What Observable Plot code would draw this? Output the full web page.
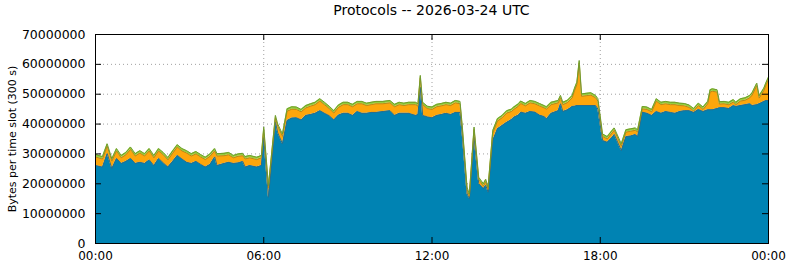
<!DOCTYPE html>
<html>
<head>
<meta charset="utf-8">
<script src="https://cdn.jsdelivr.net/npm/d3@7"></script>
<script src="https://cdn.jsdelivr.net/npm/@observablehq/plot@0.6"></script>
<style>
  html, body { margin: 0; padding: 0; background: #fff; }
  #wrap { width: 790px; height: 267px; position: relative; font-family: "DejaVu Sans", sans-serif; }
  #title { position: absolute; left: 95px; width: 673px; top: 2px; text-align: center; font-size: 14px; color: #000; }
  #chart { position: absolute; left: 0; top: 25px; }
</style>
</head>
<body>
<div id="wrap">
  <div id="title">Protocols -- 2026-03-24 UTC</div>
  <div id="chart"></div>
</div>
<script>
// Time slots (UTC, HH:MM on 2026-03-24)
const times = ["00:00","00:15","00:25","00:35","00:45","00:55","01:05","01:15","01:25","01:35","01:45","01:55",
"02:05","02:15","02:25","02:35","02:45","02:55","03:05","03:15","03:25","03:35","03:45","03:55",
"04:05","04:15","04:20","04:35","04:45","04:55","05:05","05:15","05:20","05:30","05:45","05:55",
"06:00","06:10","06:25","06:30","06:40","06:50","07:00","07:10","07:20","07:30","07:40","07:50",
"08:00","08:10","08:20","08:30","08:40","08:50","09:00","09:10","09:20","09:30","09:40","09:50",
"10:00","10:15","10:30","10:40","10:50","11:00","11:10","11:25","11:30","11:35","11:40","11:50",
"12:00","12:10","12:20","12:30","12:40","12:50","13:00","13:05","13:15","13:20","13:30","13:40",
"13:50","13:55","14:00","14:10","14:20","14:30","14:40","14:50","14:55","15:05","15:10","15:20",
"15:30","15:40","15:50","16:00","16:05","16:15","16:30","16:35","16:40","16:50","17:00","17:05",
"17:10","17:15","17:20","17:30","17:40","17:50","17:55","18:05","18:15","18:25","18:30","18:45",
"18:55","19:05","19:15","19:20","19:30","19:40","19:50","20:00","20:10","20:20","20:30","20:40",
"20:50","21:00","21:10","21:20","21:30","21:40","21:50","21:55","22:00","22:10","22:15","22:25",
"22:35","22:45","22:50","23:00","23:10","23:20","23:25","23:35","23:40","23:50","23:55","24:00"];

// Bytes per slot, in millions
const seriesA = [26.1,25.6,30.1,25.1,28.5,26.8,27.5,28.5,26.8,27.2,26.8,28.0,
26.1,28.5,27.0,25.6,27.5,29.5,28.3,27.2,26.8,27.5,26.5,25.6,
26.5,29.0,26.1,26.8,27.2,26.8,27.0,27.5,25.6,26.1,25.6,26.1,
35.5,15.5,40.6,37.0,33.4,41.2,42.0,42.1,41.4,42.9,43.2,43.6,
44.5,43.6,42.8,41.4,43.0,43.6,43.6,42.9,44.2,43.6,43.6,43.9,
43.9,44.2,44.5,42.9,43.6,43.6,43.6,42.9,43.2,52.3,42.9,42.4,
42.1,42.9,43.2,43.6,43.2,43.9,43.9,36.0,16.6,15.0,35.6,20.0,
18.4,19.5,17.2,34.5,38.4,39.5,40.6,41.5,42.3,43.0,44.0,43.6,
44.2,44.0,43.0,42.5,41.8,43.6,44.5,46.8,44.2,44.8,45.9,46.0,
46.2,46.2,46.2,46.2,46.2,46.2,45.0,34.5,33.9,35.5,36.5,31.1,
35.8,36.0,36.5,35.8,44.0,43.6,42.9,44.2,43.6,44.2,43.9,43.6,
44.2,44.5,44.5,43.9,44.9,44.2,44.8,44.8,44.8,45.2,45.5,45.5,
45.2,46.2,45.9,46.2,46.5,46.8,46.2,46.5,46.8,47.6,47.9,47.9];

const seriesB = [2.9,2.7,2.5,2.5,2.5,1.9,2.2,3.0,2.5,3.1,2.5,3.0,
2.6,2.5,2.7,2.4,2.7,2.8,2.7,3.1,2.5,2.5,2.5,2.5,
2.7,2.0,3.2,2.6,2.5,1.9,2.2,1.9,2.7,2.6,2.5,2.6,
2.7,3.1,1.5,2.2,2.5,3.1,3.0,2.8,2.7,2.5,2.8,2.9,
3.2,2.9,2.4,2.3,2.6,2.9,2.9,2.9,2.6,3.2,2.6,2.6,
2.9,2.6,2.6,2.9,2.9,2.6,2.9,3.6,2.8,3.2,3.6,2.8,
2.8,2.9,2.9,2.9,3.0,3.2,2.9,2.2,1.5,0.8,2.6,1.4,
0.8,1.2,0.9,2.5,2.6,2.6,3.1,2.7,2.6,3.0,2.9,2.5,
2.9,2.8,3.1,2.9,3.2,2.9,2.6,2.0,2.3,2.4,2.9,5.2,
7.0,14.3,3.1,3.3,3.5,2.6,2.7,1.4,1.1,1.5,1.4,1.5,
1.5,1.6,1.4,1.5,1.1,1.3,1.2,3.5,2.9,2.6,2.6,2.9,
2.0,1.6,1.1,0.5,1.3,0.7,2.0,5.9,6.2,5.5,1.2,1.3,
1.3,1.2,0.6,1.5,1.5,2.0,3.5,6.4,1.9,3.6,5.3,7.0];

const seriesC = times.map(() => 0.8);

const names = ["TCP", "UDP", "Other"];
const colors = ["#0083b3", "#fda60c", "#94cf3c"];
const edges = ["#2d6d8a", "#b88a1a", "#6f9c2e"];
const yTicks = [0, 10e6, 20e6, 30e6, 40e6, 50e6, 60e6, 70e6];
const xTickLabels = ["00:00", "06:00", "12:00", "18:00", "00:00"];

const toDate = s => { const [h, m] = s.split(":").map(Number); return new Date(Date.UTC(2026, 2, 24, h, m)); };
const data = [];
times.forEach((t, i) => {
  const d = toDate(t);
  data.push({time: d, series: names[0], value: seriesA[i] * 1e6});
  data.push({time: d, series: names[1], value: seriesB[i] * 1e6});
  data.push({time: d, series: names[2], value: seriesC[i] * 1e6});
});

const t0 = toDate("00:00"), t1 = toDate("24:00");
const xTicks = [0, 6, 12, 18, 24].map(h => new Date(Date.UTC(2026, 2, 24, h, 0)));
const W = 790, H = 242;
const tickLenX = 6 / 673 * (t1 - t0);
const tickLenY = 6 / 209 * 70e6;

const chart = Plot.plot({
  width: W, height: H,
  marginLeft: 95, marginRight: 22, marginTop: 9, marginBottom: 24,
  style: {fontFamily: "DejaVu Sans, sans-serif", fontSize: "12px", color: "#000", background: "#fff"},
  x: {type: "utc", domain: [t0, t1]},
  y: {domain: [0, 70e6]},
  color: {domain: names, range: colors},
  marks: [
    Plot.gridY(yTicks, {stroke: "#a0a0a0", strokeOpacity: 1, strokeDasharray: "1,3"}),
    Plot.gridX(xTicks, {stroke: "#a0a0a0", strokeOpacity: 1, strokeDasharray: "1,3"}),
    Plot.areaY(data, {x: "time", y: "value", fill: "series", order: names}),
    Plot.lineY(data, Plot.stackY2({x: "time", y: "value", z: "series", order: names, stroke: "series", strokeWidth: 1})),
    Plot.axisY(yTicks, {tickSize: 0, tickPadding: 10, tickFormat: d3.format("d"), label: null, fontSize: 12.5}),
    Plot.axisX(xTicks, {tickSize: 0, tickPadding: 8, tickFormat: (d, i) => xTickLabels[i], label: null, fontSize: 12}),
    Plot.ruleY(yTicks, {x1: t0, x2: new Date(+t0 + tickLenX), stroke: "black"}),
    Plot.ruleY(yTicks, {x1: t1, x2: new Date(+t1 - tickLenX), stroke: "black"}),
    Plot.ruleX(xTicks, {y1: 0, y2: tickLenY, stroke: "black"}),
    Plot.ruleX(xTicks, {y1: 70e6, y2: 70e6 - tickLenY, stroke: "black"}),
    Plot.frame({stroke: "black", strokeWidth: 1}),
    Plot.text(["Bytes per time slot (300 s)"], {frameAnchor: "left", textAnchor: "middle", rotate: -90, dx: -83, fontSize: 11})
  ]
});
chart.querySelectorAll("g[aria-label='line'] path").forEach(p => {
  const s = p.getAttribute("stroke");
  const i = colors.indexOf(s);
  if (i >= 0) p.setAttribute("stroke", edges[i]);
});
document.getElementById("chart").appendChild(chart);
</script>
</body>
</html>
